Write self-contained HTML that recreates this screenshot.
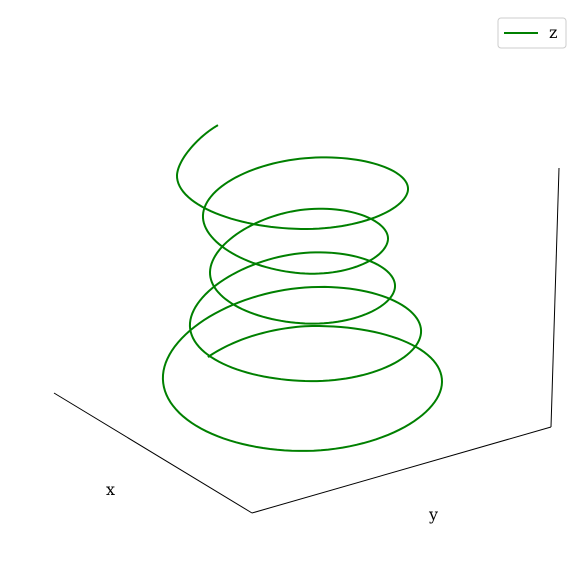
<!DOCTYPE html>
<html><head><meta charset="utf-8"><style>
html,body{margin:0;padding:0;background:#fff;width:583px;height:584px;overflow:hidden}
svg text{font-family:"DejaVu Serif","Liberation Serif",serif;font-size:16px;fill:#000}
</style></head><body>
<svg id="chart" width="583" height="584" viewBox="0 0 583 584">
<line x1="54" y1="393" x2="252" y2="513" stroke="#000" stroke-width="1"/>
<line x1="252" y1="513" x2="551" y2="427" stroke="#000" stroke-width="1"/>
<line x1="551" y1="427" x2="559" y2="168" stroke="#000" stroke-width="1"/>
<text x="106" y="495">x</text>
<text x="429" y="520">y</text>
<g>
<rect x="498" y="18" width="68" height="30" rx="3" fill="#fff" stroke="#ccc"/>
<line x1="504" y1="33" x2="538" y2="33" stroke="#008000" stroke-width="2"/>
<text x="549" y="38">z</text>
</g>
<path id="helix" fill="none" stroke="#008000" stroke-width="2"/>
</svg>
<script>
// angle (degrees) at each sample, radius and height (centre level) per sample
const angles = [-141,-90,0,90,180,270,360,450,540,630,720,810,900,990,1080,1170,1260,1350,1440,1530,1620,1659];
const radius = [125,137,137,140,142,128,116,115,115,100,90,92,95,88,83,92,102,103,103,115,128,112];
const height = [394,390,382,388,375,343,333,333,323,293,287,288,272,242,238,241,218,193,188,192,175,147];
const shiftX = [0,0,0,-6,0,0,0,0,0,0,0,0,0,0,0,0,0,0,0,-4,0,0];
const CX = 305;
function sx(r, phi, dx){ return CX + dx + r*Math.cos(phi*Math.PI/180); }
function sy(h, r, phi, frac){ const ky = 0.47 - 0.16*frac; return h + ky*r*Math.sin(phi*Math.PI/180); }
function cr(p0,p1,p2,p3,t){ return 0.5*((2*p1)+(-p0+p2)*t+(2*p0-5*p1+4*p2-p3)*t*t+(-p0+3*p1-3*p2+p3)*t*t*t); }
let d = "";
const n = angles.length;
for(let i=0;i<n-1;i++){
  const steps = 30;
  for(let s=0;s<=steps;s++){
    if(i>0 && s===0) continue;
    const t = s/steps;
    const a = angles[i] + (angles[i+1]-angles[i])*t;
    const i0=Math.max(0,i-1), i3=Math.min(n-1,i+2);
    const r = cr(radius[i0],radius[i],radius[i+1],radius[i3],t);
    const h = cr(height[i0],height[i],height[i+1],height[i3],t);
    const dx = cr(shiftX[i0],shiftX[i],shiftX[i+1],shiftX[i3],t);
    const frac = (a-angles[0])/(angles[n-1]-angles[0]);
    d += (d?"L":"M") + sx(r,a,dx).toFixed(2) + "," + sy(h,r,a,frac).toFixed(2);
  }
}
document.getElementById('helix').setAttribute('d', d);
</script>
</body></html>
